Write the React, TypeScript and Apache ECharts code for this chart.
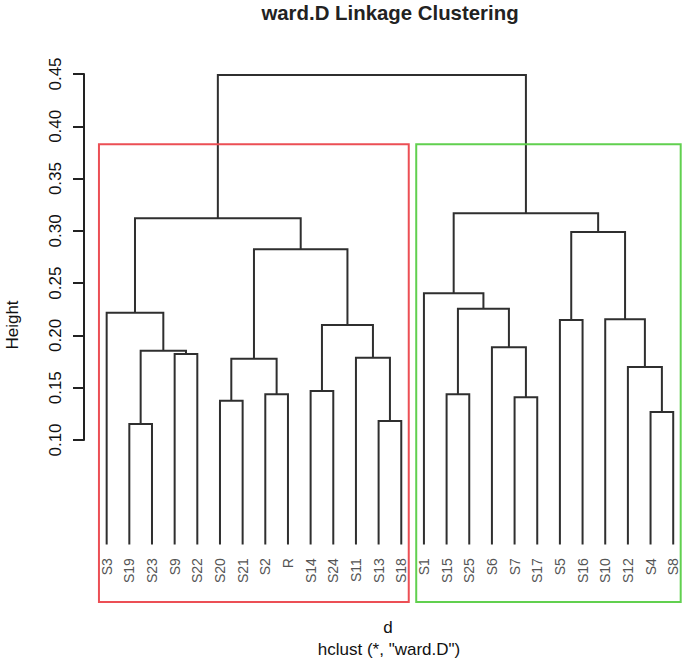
import React, { useEffect, useRef } from 'react';
import * as echarts from 'echarts';

// Leaves in dendrogram order
const leafNames = ['S3', 'S19', 'S23', 'S9', 'S22', 'S20', 'S21', 'S2', 'R', 'S14', 'S24', 'S11', 'S13', 'S18',
  'S1', 'S15', 'S25', 'S6', 'S7', 'S17', 'S5', 'S16', 'S10', 'S12', 'S4', 'S8'];

// Merge steps: children (leaf name or "m<index>") and height
const mergeLeft = ['S19', 'S13', 'S4', 'S20', 'S7', 'S2', 'S15', 'S14', 'S12', 'm3', 'S11', 'S9', 'm0', 'S6', 'm7',
  'S5', 'S10', 'S3', 'm6', 'S1', 'm9', 'm15', 'm17', 'm19', 'm22'];
const mergeRight = ['S23', 'S18', 'S8', 'S21', 'S17', 'R', 'S25', 'S24', 'm2', 'm5', 'm1', 'S22', 'm11', 'm4', 'm10',
  'S16', 'm8', 'm12', 'm13', 'm18', 'm14', 'm16', 'm20', 'm21', 'm23'];
const mergeHeights = [0.1153, 0.1182, 0.1268, 0.1376, 0.1408, 0.1437, 0.1437, 0.1469, 0.1698, 0.1777, 0.1787,
  0.1822, 0.1854, 0.1886, 0.2100, 0.2147, 0.2154, 0.2217, 0.2256, 0.2403, 0.2824, 0.2989, 0.3120, 0.3168, 0.449];

// rect.hclust clusters (k = 2)
const clusterSizes = [14, 12];
const clusterColors = ['#EC4F55', '#61D04F'];

// Height axis ticks
const yTickMin = 0.1;
const yTickMax = 0.45;
const yTickStep = 0.05;

const FONT = '"Liberation Sans", Arial, sans-serif';

export default function App() {
  const ref = useRef<HTMLDivElement>(null);

  useEffect(() => {
    const chart = echarts.init(ref.current!, null, { renderer: 'svg' });

    const pos: Record<string, number> = {};
    const hgt: Record<string, number> = {};
    leafNames.forEach((n, i) => { pos[n] = i + 1; hgt[n] = 0; });
    const segData: number[][] = [];
    mergeHeights.forEach((h, i) => {
      const l = mergeLeft[i];
      const r = mergeRight[i];
      const key = 'm' + i;
      pos[key] = (pos[l] + pos[r]) / 2;
      hgt[key] = h;
      segData.push([pos[l], hgt[l], pos[r], hgt[r], h]);
    });

    const yBottom = -0.0549;
    const sortedH = [...mergeHeights].sort((a, b) => b - a);
    const k = clusterSizes.length;
    const rectTop = (sortedH[k - 2] + sortedH[k - 1]) / 2;
    const rectData: number[][] = [];
    let cum = 0;
    clusterSizes.forEach((s) => {
      rectData.push([cum + 0.66, cum + s + 0.33, yBottom, rectTop]);
      cum += s;
    });

    const leafData = leafNames.map((n, i) => ({ name: n, value: [i + 1, 0] }));

    chart.setOption({
      animation: false,
      grid: [
        { left: 84, right: 0, top: 74, bottom: 60 },
        { left: 84, width: 10, top: 74, height: 366 },
      ],
      xAxis: [
        { type: 'value', gridIndex: 0, min: 0, max: 26.52, show: false },
        { type: 'value', gridIndex: 1, min: 0, max: 1, show: false },
      ],
      yAxis: [
        { type: 'value', gridIndex: 0, min: yBottom, max: 0.45, show: false },
        {
          type: 'value', gridIndex: 1, min: yTickMin, max: yTickMax, interval: yTickStep,
          axisLine: { show: true, lineStyle: { color: '#222', width: 2 } },
          axisTick: { show: true, length: 11, lineStyle: { color: '#222', width: 2 } },
          splitLine: { show: false },
          axisLabel: {
            rotate: 90, fontSize: 17, fontFamily: FONT, color: '#111', margin: 20,
            formatter: (v: number) => v.toFixed(2),
          },
        },
      ],
      series: [
        {
          type: 'custom',
          xAxisIndex: 0, yAxisIndex: 0,
          clip: false,
          data: segData,
          renderItem: (params: any, api: any) => {
            const p1 = api.coord([api.value(0), api.value(1)]);
            const p2 = api.coord([api.value(0), api.value(4)]);
            const p3 = api.coord([api.value(2), api.value(4)]);
            const p4 = api.coord([api.value(2), api.value(3)]);
            return {
              type: 'polyline',
              shape: { points: [p1, p2, p3, p4] },
              style: { stroke: '#2f2f2f', lineWidth: 2, fill: null },
            };
          },
        },
        {
          type: 'custom',
          xAxisIndex: 0, yAxisIndex: 0,
          clip: false,
          data: rectData,
          renderItem: (params: any, api: any) => {
            const a = api.coord([api.value(0), api.value(3)]);
            const b = api.coord([api.value(1), api.value(2)]);
            return {
              type: 'rect',
              shape: { x: a[0], y: a[1], width: b[0] - a[0], height: b[1] - a[1] },
              style: { stroke: clusterColors[params.dataIndex], lineWidth: 2, fill: null },
            };
          },
        },
        {
          type: 'custom',
          xAxisIndex: 0, yAxisIndex: 0,
          clip: false,
          data: leafData,
          renderItem: (params: any, api: any) => {
            const p = api.coord([api.value(0), api.value(1)]);
            return {
              type: 'text',
              x: p[0],
              y: p[1] + 13.5,
              rotation: Math.PI / 2,
              style: {
                text: leafNames[params.dataIndex],
                font: '14px ' + FONT,
                fill: '#555',
                align: 'right',
                verticalAlign: 'middle',
                textAlign: 'right',
                textVerticalAlign: 'middle',
              },
            };
          },
        },
      ],
      graphic: [
        {
          type: 'text', x: 390, y: 12.5,
          style: {
            text: 'ward.D Linkage Clustering', font: 'bold 20.4px ' + FONT, fill: '#222',
            align: 'center', verticalAlign: 'middle', textAlign: 'center', textVerticalAlign: 'middle',
          },
        },
        {
          type: 'text', x: 388, y: 627.5,
          style: {
            text: 'd', font: '17px ' + FONT, fill: '#111',
            align: 'center', verticalAlign: 'middle', textAlign: 'center', textVerticalAlign: 'middle',
          },
        },
        {
          type: 'text', x: 389, y: 649,
          style: {
            text: 'hclust (*, "ward.D")', font: '17px ' + FONT, fill: '#111',
            align: 'center', verticalAlign: 'middle', textAlign: 'center', textVerticalAlign: 'middle',
          },
        },
        {
          type: 'text', x: 12.5, y: 325, rotation: Math.PI / 2,
          style: {
            text: 'Height', font: '17px ' + FONT, fill: '#111',
            align: 'center', verticalAlign: 'middle', textAlign: 'center', textVerticalAlign: 'middle',
          },
        },
      ],
    });

    return () => chart.dispose();
  }, []);

  return (
    <div
      ref={ref}
      style={{ position: 'fixed', left: 0, top: 0, width: 685, height: 662, background: '#fff' }}
    />
  );
}
